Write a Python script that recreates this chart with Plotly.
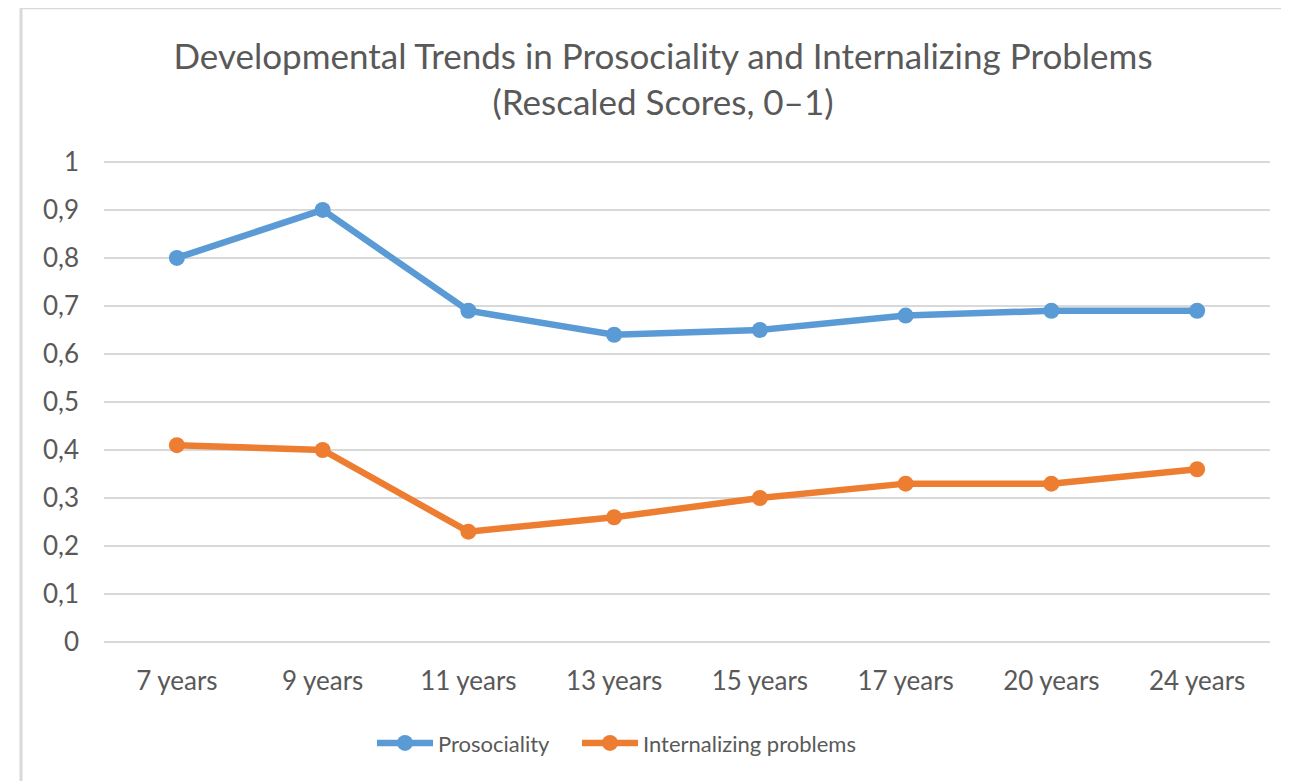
import plotly.graph_objects as go

categories = ["7 years", "9 years", "11 years", "13 years", "15 years", "17 years", "20 years", "24 years"]
prosociality = [0.80, 0.90, 0.69, 0.64, 0.65, 0.68, 0.69, 0.69]
internalizing = [0.41, 0.40, 0.23, 0.26, 0.30, 0.33, 0.33, 0.36]
y_ticks = [0, 0.1, 0.2, 0.3, 0.4, 0.5, 0.6, 0.7, 0.8, 0.9, 1]
y_tick_labels = ["0", "0,1", "0,2", "0,3", "0,4", "0,5", "0,6", "0,7", "0,8", "0,9", "1"]

# page has an 8px body margin; build the figure in page coordinates minus that offset
OFF = 8
W, H = 1289 - OFF, 781 - OFF
PAD = 0.004  # small range padding so the 0 and 1 gridlines are drawn
X0, X1 = 104, 1270
Y_TOP, Y_BOT = 162, 642  # y=1 and y=0 in page pixels
span = Y_BOT - Y_TOP
pad_px = PAD * span
L = X0 - OFF
R = (W + OFF) - X1
T = Y_TOP - pad_px - OFF
B = (H + OFF) - (Y_BOT + pad_px)
pw = X1 - X0
ph = (Y_BOT + pad_px) - (Y_TOP - pad_px)

FONT = "Lato"
TXT = "#595959"
GRID = "#d9d9d9"

fig = go.Figure()
fig.add_trace(go.Scatter(x=categories, y=prosociality, name="Prosociality",
                         mode="lines+markers", legend="legend",
                         line=dict(color="#5b9bd5", width=6.5),
                         marker=dict(color="#5b9bd5", size=16)))
fig.add_trace(go.Scatter(x=categories, y=internalizing, name="Internalizing problems",
                         mode="lines+markers", legend="legend2",
                         line=dict(color="#ed7d31", width=6.5),
                         marker=dict(color="#ed7d31", size=16)))

def px_x(p):
    return (p - X0) / pw

def px_y(p):
    return 1 - (p - (Y_TOP - pad_px)) / ph

legend_common = dict(orientation="h", xanchor="left", yanchor="middle",
                     font=dict(family=FONT, size=22, color=TXT), bgcolor="rgba(0,0,0,0)",
                     itemwidth=56)

fig.update_layout(
    width=W, height=H,
    margin=dict(l=L, r=R, t=T, b=B, autoexpand=False),
    paper_bgcolor="white", plot_bgcolor="white",
    font=dict(family=FONT, color=TXT, size=21),
    title=dict(text="Developmental Trends in Prosociality and Internalizing Problems<br>(Rescaled Scores, 0–1)",
               x=(663 - OFF) / W, xanchor="center", y=1 - (69 - OFF) / H, yanchor="top",
               font=dict(family=FONT, size=35, color=TXT)),
    showlegend=True,
    legend=dict(x=px_x(372), y=px_y(743), **legend_common),
    legend2=dict(x=px_x(577), y=px_y(743), **legend_common),
    xaxis=dict(type="category", range=[-0.5, len(categories) - 0.5],
               showgrid=False, zeroline=False, showline=False,
               ticks="", ticklabelstandoff=19, tickfont=dict(family=FONT, size=26, color=TXT)),
    yaxis=dict(range=[-PAD, 1 + PAD], tickvals=y_ticks, ticktext=y_tick_labels,
               showgrid=True, gridcolor=GRID, gridwidth=2, zeroline=False, showline=False,
               ticks="", ticklabelstandoff=24, tickfont=dict(family=FONT, size=26, color=TXT)),
    shapes=[dict(type="rect", xref="paper", yref="paper",
                 x0=px_x(21), x1=px_x(1320), y0=px_y(800), y1=px_y(8),
                 line=dict(color=GRID, width=3), layer="below")],
)

fig.write_html("out.html")
